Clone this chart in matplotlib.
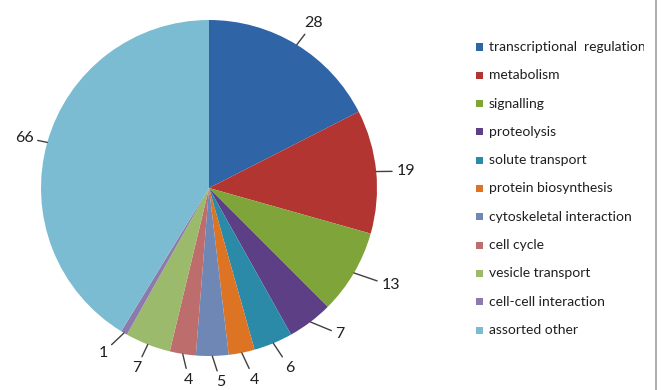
import numpy as np
import matplotlib
matplotlib.use("Agg")
import matplotlib.pyplot as plt
from matplotlib.patches import Rectangle
from matplotlib.lines import Line2D

# data
categories = ["transcriptional  regulation", "metabolism", "signalling", "proteolysis",
              "solute transport", "protein biosynthesis", "cytoskeletal interaction",
              "cell cycle", "vesicle transport", "cell-cell interaction", "assorted other"]
counts = [28, 19, 13, 7, 6, 4, 5, 4, 7, 1, 66]
colors = ["#2F64A6", "#B23532", "#7FA53A", "#5D3F85", "#2A8AA7", "#DC7423",
          "#6F87B5", "#BE6D6D", "#9BBA6C", "#8C7AAA", "#7BBCD2"]

# label text positions (in pie-radius units)
label_pos = [(0.62, 0.98), (1.17, 0.10), (1.08, -0.58), (0.78, -0.87), (0.48, -1.07),
             (0.27, -1.14), (0.07, -1.155), (-0.12, -1.14), (-0.43, -1.07),
             (-0.63, -0.98), (-1.10, 0.30)]

W, H = 663, 390
fig = plt.figure(figsize=(W / 100, H / 100), dpi=100)
plt.rcParams['font.family'] = ['Lato', 'DejaVu Sans']

# pie axes: centre (209,188) px, radius 168 px
cx, cy, r = 209, 188, 168
ax = fig.add_axes([(cx - r) / W, (H - cy - r) / H, 2 * r / W, 2 * r / H])
wedges, _ = ax.pie(counts, colors=colors, startangle=90, counterclock=False,
                   radius=1, wedgeprops=dict(linewidth=0))
ax.set_xlim(-1, 1)
ax.set_ylim(-1, 1)
ax.set_aspect('equal')
ax.axis('off')

total = float(sum(counts))
cum = np.cumsum([0] + counts)
for i, v in enumerate(counts):
    mid = (cum[i] + v / 2) / total * 2 * np.pi
    ex, ey = np.sin(mid), np.cos(mid)
    tx, ty = label_pos[i]
    ax.annotate(str(v), xy=(ex, ey), xytext=(tx, ty), ha='center', va='center',
                fontsize=11.5, color='#1F1F1F', annotation_clip=False,
                arrowprops=dict(arrowstyle='-', color='#404040', lw=1.0,
                                shrinkA=1, shrinkB=0))

# legend
for i, (lab, col) in enumerate(zip(categories, colors)):
    ypx = 47 + i * 28.3
    fig.patches.append(Rectangle((476 / W, (H - ypx - 3.5) / H), 7 / W, 7 / H,
                                 transform=fig.transFigure, facecolor=col,
                                 edgecolor='none'))
    fig.text(489 / W, (H - ypx) / H, lab, ha='left', va='center',
             fontsize=10, color='#1F1F1F')

# clip area at the right edge and border line
fig.patches.append(Rectangle((644 / W, 0), (W - 644) / W, 1, transform=fig.transFigure,
                             facecolor='white', edgecolor='none', zorder=10))
fig.add_artist(Line2D([655.5 / W, 655.5 / W], [0, 1], transform=fig.transFigure,
                      color='#A0A0A0', lw=1.2, zorder=11))

fig.savefig("out.png", dpi=100)
